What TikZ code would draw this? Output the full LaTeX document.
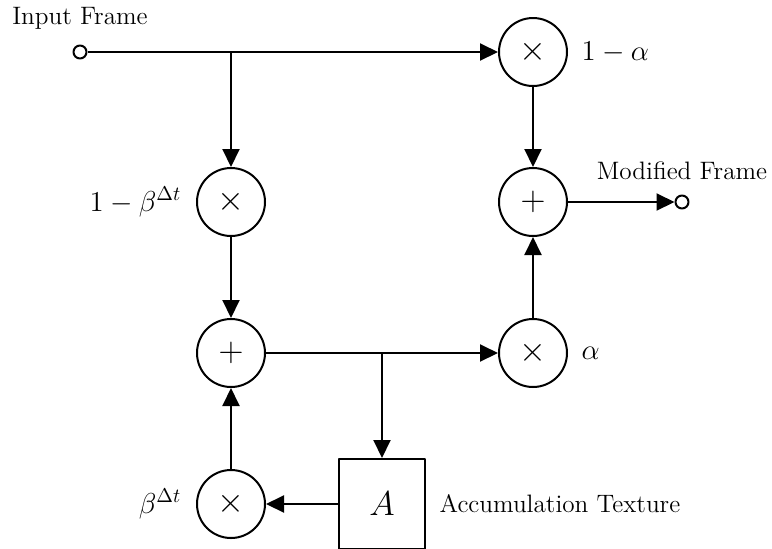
\documentclass[tikz,border=0pt]{standalone}
\usetikzlibrary{arrows.meta,positioning}
\begin{document}
\begin{tikzpicture}[x=0.5pt,y=-0.5pt,line width=1pt,>={Triangle[length=9pt,width=8.5pt]},
	line join=round,
	mult/.style={circle,draw,minimum size=34pt,inner sep=0pt,font=\LARGE},
	port/.style={circle,draw,minimum size=6.5pt,inner sep=0pt},
	accbox/.style={rectangle,draw,minimum width=43pt,minimum height=45pt,font=\LARGE},
	lbl/.style={font=\Large},
	txt/.style={font=\fontsize{12.6}{15}\selectfont}]
	\def\xl{231} \def\xa{382} \def\xr{533} % columns
	\def\ya{52} \def\yb{202} \def\yc{353} \def\yd{504} % rows
	\useasboundingbox (0,0) rectangle (772,548);
	% ports
	\node[port] (in) at (80,\ya) {};
	\node[port] (out) at (682,\yb) {};
	\node[txt,above=3.5pt of in] (inlbl) {Input Frame};
	\node[txt,above=3.5pt of out] (outlbl) {Modified Frame};
	% operators
	\node[mult] (mtop) at (\xr,\ya) {$\times$};
	\node[mult] (mbeta1) at (\xl,\yb) {$\times$};
	\node[mult] (addr) at (\xr,\yb) {$+$};
	\node[mult] (addl) at (\xl,\yc) {$+$};
	\node[mult] (malpha) at (\xr,\yc) {$\times$};
	\node[mult] (mbeta) at (\xl,\yd) {$\times$};
	\node[accbox] (acc) at (\xa,\yd) {$A$};
	% labels
	\node[lbl,right=3pt of mtop] (lalpha1) {$1-\alpha$};
	\node[lbl,left=3.5pt of mbeta1] (lbeta1) {$1-\beta^{\Delta t}$};
	\node[lbl,right=3pt of malpha] (lalpha) {$\alpha$};
	\node[lbl,left=3.5pt of mbeta] (lbeta) {$\beta^{\Delta t}$};
	\node[txt,right=3pt of acc] (acclbl) {Accumulation Texture};
	% wires
	\coordinate (j1) at (\xl,\ya);
	\coordinate (j2) at (\xa,\yc);
	\draw[->] (in) -- (mtop);
	\draw[->] (j1) -- (mbeta1);
	\draw[->] (mbeta1) -- (addl);
	\draw[->] (mbeta) -- (addl);
	\draw[->] (addl) -- (malpha);
	\draw[->] (j2) -- (acc);
	\draw[->] (acc) -- (mbeta);
	\draw[->] (mtop) -- (addr);
	\draw[->] (malpha) -- (addr);
	\draw[->] (addr) -- (out);
\end{tikzpicture}
\end{document}
